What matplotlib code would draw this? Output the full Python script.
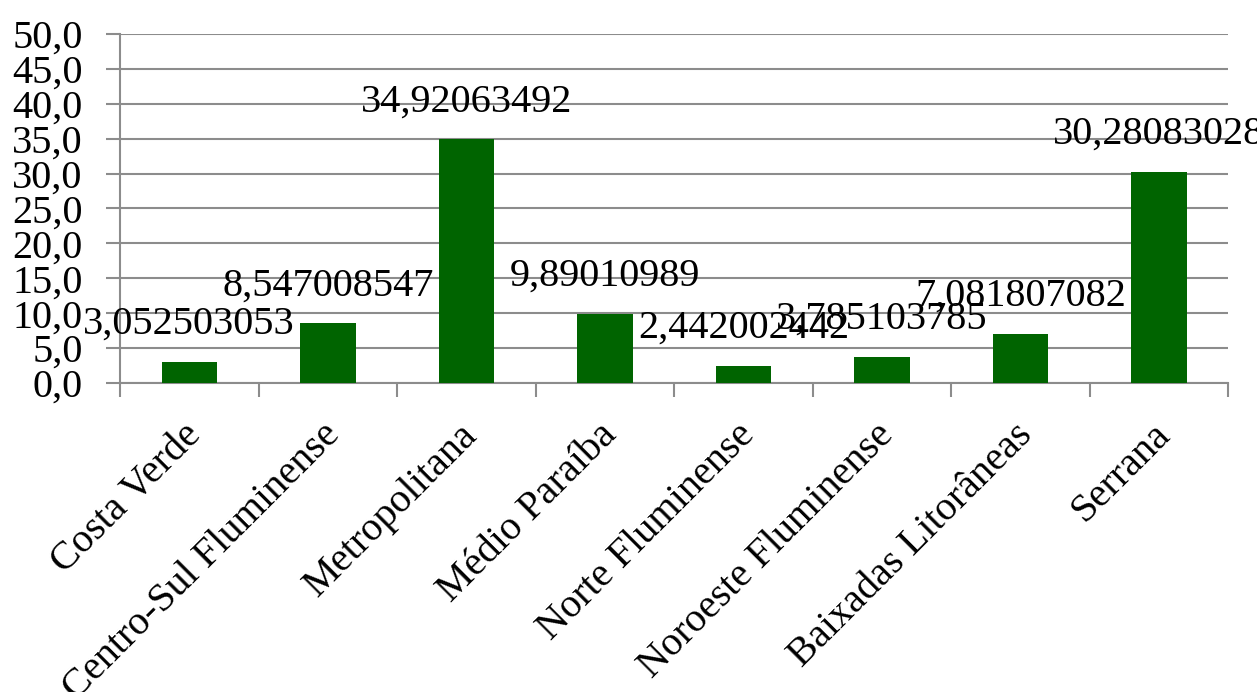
import matplotlib
matplotlib.use("Agg")
import matplotlib.pyplot as plt
import matplotlib.transforms as mtransforms
import numpy as np

# ---------- dados ----------
regioes = ["Costa Verde", "Centro-Sul Fluminense", "Metropolitana", "Médio Paraíba",
           "Norte Fluminense", "Noroeste Fluminense", "Baixadas Litorâneas", "Serrana"]
valores = [3.052503053, 8.547008547, 34.92063492, 9.89010989,
           2.442002442, 3.785103785, 7.081807082, 30.28083028]
rotulos = ["3,052503053", "8,547008547", "34,92063492", "9,89010989",
           "2,442002442", "3,785103785", "7,081807082", "30,28083028"]
y_ticks = [0, 5, 10, 15, 20, 25, 30, 35, 40, 45, 50]

plt.rcParams["font.family"] = ["Liberation Serif", "DejaVu Serif"]
FS = 29

fig = plt.figure(figsize=(12.57, 6.92), dpi=100)
ax = fig.add_axes([0.0955, 0.4465, 0.8815, 0.5044])

x = np.arange(len(regioes))
ax.bar(x, valores, width=0.4, color="#006400", zorder=3)

# rótulos de dados
for xi, v, t in zip(x, valores, rotulos):
    ax.annotate(t, (xi, v), xytext=(0, 27), textcoords="offset points",
                ha="center", va="center", fontsize=FS, zorder=4,
                annotation_clip=False)

# ---------- eixos ----------
ax.set_xlim(-0.5, len(regioes) - 0.5)
ax.set_ylim(0, 50)
ax.set_yticks(y_ticks)
ax.set_yticklabels([f"{t:.1f}".replace(".", ",") for t in y_ticks], fontsize=FS)
ax.yaxis.grid(True, color="#8c8c8c", linewidth=1.5, zorder=0)
ax.tick_params(axis="y", length=10, width=1.5, color="#8c8c8c", pad=17)

ax.set_xticks(x)
ax.set_xticklabels(regioes, rotation=45, ha="right", rotation_mode="anchor",
                   fontsize=FS)
ax.tick_params(axis="x", which="major", length=0, pad=24)
shift = mtransforms.ScaledTranslation(-7 / 100, 0, fig.dpi_scale_trans)
for lbl in ax.get_xticklabels():
    lbl.set_transform(lbl.get_transform() + shift)
ax.set_xticks(np.arange(-0.5, len(regioes)), minor=True)
ax.tick_params(axis="x", which="minor", length=10, width=1.5, color="#8c8c8c")

for s in ("top", "right"):
    ax.spines[s].set_visible(False)
for s in ("left", "bottom"):
    ax.spines[s].set_color("#8c8c8c")
    ax.spines[s].set_linewidth(1.5)

fig.savefig("out.png", dpi=100)
